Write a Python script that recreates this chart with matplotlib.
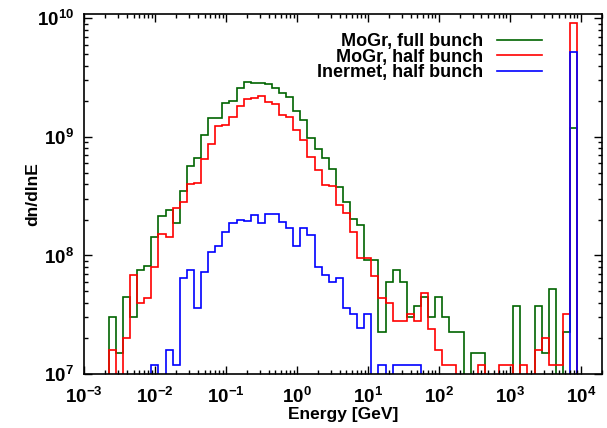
import numpy as np
import matplotlib
matplotlib.use("Agg")
import matplotlib.pyplot as plt
from matplotlib.ticker import LogLocator, FixedLocator, FixedFormatter, NullFormatter

plt.rcParams['font.family'] = ['Liberation Sans', 'DejaVu Sans']
plt.rcParams['font.weight'] = 'bold'
plt.rcParams['mathtext.fontset'] = 'custom'
plt.rcParams['mathtext.rm'] = 'Liberation Sans:bold'
plt.rcParams['mathtext.bf'] = 'Liberation Sans:bold'
plt.rcParams['mathtext.default'] = 'bf'

# histogram bins: 0.1 decade wide, log10(E) from -2.65 to 3.95
log_edges = np.round(np.arange(-2.65, 3.951, 0.1), 3)
edges = 10.0 ** log_edges

# dn/dlnE per bin (0 = empty bin)
mogr_full = [
    3.0e7, 1.5e7, 4.5e7, 3.0e7, 7.5e7, 8.2e7, 1.42e8, 2.17e8, 2.42e8, 1.87e8,
    3.52e8, 5.65e8, 6.7e8, 1.03e9, 1.44e9, 1.44e9, 1.92e9, 2.03e9, 2.58e9, 2.91e9,
    2.87e9, 2.84e9, 2.79e9, 2.59e9, 2.34e9, 2.17e9, 1.64e9, 1.39e9, 9.75e8, 7.87e8,
    6.6e8, 5.33e8, 3.81e8, 2.84e8, 2.02e8, 1.81e8, 9.1e7, 9.1e7, 2.25e7, 6.0e7,
    7.5e7, 6.0e7, 3.0e7, 3.75e7, 4.5e7, 3.0e7, 4.5e7, 3.0e7, 2.25e7, 2.25e7,
    0, 1.5e7, 1.5e7, 0, 0, 0, 0, 3.75e7, 0, 0,
    3.75e7, 1.5e7, 5.25e7, 0, 2.25e7, 1.18e9,
]
mogr_half = [
    1.6e7, 0, 2.0e7, 6.8e7, 4.0e7, 4.4e7, 8.0e7, 1.52e8, 1.42e8, 2.5e8,
    2.81e8, 4.04e8, 4.09e8, 6.49e8, 8.73e8, 1.24e9, 1.27e9, 1.48e9, 1.84e9, 2.08e9,
    2.12e9, 2.22e9, 1.96e9, 1.89e9, 1.53e9, 1.48e9, 1.15e9, 9.44e8, 6.75e8, 5.27e8,
    3.94e8, 3.85e8, 2.67e8, 2.27e8, 1.59e8, 9.6e7, 9.6e7, 6.7e7, 4.4e7, 4.0e7,
    2.8e7, 2.8e7, 3.2e7, 2.8e7, 4.8e7, 2.4e7, 1.6e7, 1.2e7, 1.2e7, 0,
    0, 0, 1.2e7, 0, 0, 1.2e7, 1.2e7, 0, 1.2e7, 0,
    1.6e7, 2.0e7, 1.2e7, 1.2e7, 3.2e7, 9.2e9,
]
inermet_half = [
    0, 0, 0, 0, 0, 0, 1.2e7, 0, 1.6e7, 1.2e7,
    6.4e7, 7.6e7, 3.6e7, 7.2e7, 1.08e8, 1.21e8, 1.57e8, 1.89e8, 2.0e8, 1.95e8,
    2.18e8, 1.89e8, 2.25e8, 2.25e8, 1.93e8, 1.7e8, 1.21e8, 1.7e8, 1.49e8, 8.05e7,
    6.84e7, 6.0e7, 6.4e7, 3.58e7, 3.2e7, 2.43e7, 3.2e7, 0, 1.2e7, 0,
    1.2e7, 1.2e7, 1.2e7, 1.2e7, 0, 0, 0, 0, 0, 0,
    0, 0, 0, 0, 0, 0, 0, 0, 0, 0,
    0, 0, 0, 0, 0, 5.25e9,
]

series = [
    ("MoGr, full bunch", mogr_full, "#006400"),
    ("MoGr, half bunch", mogr_half, "#ff0000"),
    ("Inermet, half bunch", inermet_half, "#0000ff"),
]

fig = plt.figure(figsize=(6.07, 4.28), dpi=100)
ax = fig.add_axes([84 / 607, 1 - 374 / 428, 518 / 607, 360 / 428])

for label, vals, col in series:
    v = np.asarray(vals, dtype=float)
    v = np.where(v > 0, v, 1.0)  # empty bins fall below the axis
    ax.stairs(v, edges, baseline=1.0, color=col, lw=1.2, label=label)

ax.set_xscale('log')
ax.set_yscale('log')
ax.set_xlim(1e-3, 2e4)
ax.set_ylim(1e7, 1.09e10)

xt = [10.0 ** e for e in range(-3, 5)]
ax.xaxis.set_major_locator(FixedLocator(xt))
ax.xaxis.set_major_formatter(FixedFormatter([r'$10^{%d}$' % e for e in range(-3, 5)]))
yt = [10.0 ** e for e in range(7, 11)]
ax.yaxis.set_major_locator(FixedLocator(yt))
ax.yaxis.set_major_formatter(FixedFormatter([r'$10^{%d}$' % e for e in range(7, 11)]))
for a in (ax.xaxis, ax.yaxis):
    a.set_minor_locator(LogLocator(base=10, subs=np.arange(2, 10), numticks=20))
    a.set_minor_formatter(NullFormatter())

ax.tick_params(which='both', direction='in', top=True, right=True, width=1.0)
ax.tick_params(which='major', length=6, labelsize=13.5)
ax.tick_params(axis='x', which='major', pad=9)
ax.tick_params(axis='y', which='major', pad=7)
ax.tick_params(which='minor', length=3)
for s in ax.spines.values():
    s.set_linewidth(1.2)

ax.set_xlabel('Energy [GeV]', fontsize=12.5, fontweight='bold', labelpad=0)
ax.set_ylabel('dn/dlnE', fontsize=12.5, fontweight='bold', labelpad=-2)

leg = ax.legend(loc='upper right', bbox_to_anchor=(0.884, 0.947), frameon=False,
                markerfirst=False, fontsize=13, handlelength=2.5, handletextpad=0.75,
                labelspacing=-0.08, borderpad=0, borderaxespad=0)
for t in leg.get_texts():
    t.set_fontweight('bold')

fig.savefig('out.png', dpi=100)
